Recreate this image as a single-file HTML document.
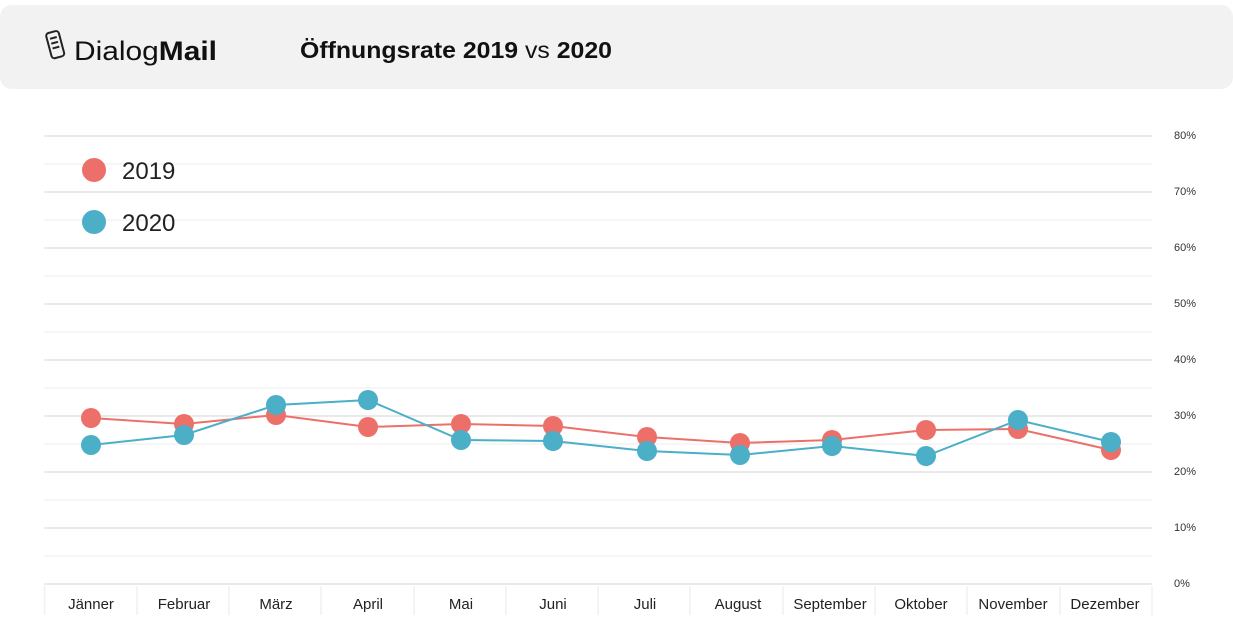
<!DOCTYPE html>
<html><head><meta charset="utf-8"><style>
body{margin:0;width:1233px;height:630px;background:#fff;font-family:"Liberation Sans",sans-serif;overflow:hidden;position:relative}
.hdr{position:absolute;left:0;top:5px;width:1233px;height:84px;background:#f2f2f2;border-radius:12px}
</style></head><body>
<div class="hdr"></div>
<svg width="1233" height="630" style="position:absolute;left:0;top:0" font-family="Liberation Sans, sans-serif">
<g transform="translate(46,32) rotate(-15 8 14)" fill="none" stroke="#222" stroke-width="2"><rect x="3" y="0" width="13" height="26" rx="3"/><line x1="6" y1="6" x2="13" y2="6"/><line x1="6" y1="11" x2="13" y2="11"/><line x1="6" y1="16" x2="13" y2="16"/></g>
<text x="74" y="60" font-size="27" fill="#111" textLength="143" lengthAdjust="spacingAndGlyphs">Dialog<tspan font-weight="bold">Mail</tspan></text>
<text x="300" y="58" font-size="23" font-weight="bold" fill="#111" textLength="312" lengthAdjust="spacingAndGlyphs">Öffnungsrate 2019 <tspan font-weight="normal">vs</tspan> 2020</text>
<g stroke="#f3f3f3" stroke-width="1.5">
<line x1="44" x2="1152" y1="556" y2="556"/><line x1="44" x2="1152" y1="500" y2="500"/><line x1="44" x2="1152" y1="444" y2="444"/><line x1="44" x2="1152" y1="388" y2="388"/><line x1="44" x2="1152" y1="332" y2="332"/><line x1="44" x2="1152" y1="276" y2="276"/><line x1="44" x2="1152" y1="220" y2="220"/><line x1="44" x2="1152" y1="164" y2="164"/>
</g>
<g stroke="#e3e3e3" stroke-width="1.5">
<line x1="44" x2="1152" y1="584" y2="584"/><line x1="44" x2="1152" y1="528" y2="528"/><line x1="44" x2="1152" y1="472" y2="472"/><line x1="44" x2="1152" y1="416" y2="416"/><line x1="44" x2="1152" y1="360" y2="360"/><line x1="44" x2="1152" y1="304" y2="304"/><line x1="44" x2="1152" y1="248" y2="248"/><line x1="44" x2="1152" y1="192" y2="192"/><line x1="44" x2="1152" y1="136" y2="136"/>
</g>
<g stroke="#f0f0f0" stroke-width="1.5">
<line x1="44.5" x2="44.5" y1="586" y2="615"/><line x1="137" x2="137" y1="586" y2="615"/><line x1="229" x2="229" y1="586" y2="615"/><line x1="321" x2="321" y1="586" y2="615"/><line x1="414" x2="414" y1="586" y2="615"/><line x1="506" x2="506" y1="586" y2="615"/><line x1="598" x2="598" y1="586" y2="615"/><line x1="690" x2="690" y1="586" y2="615"/><line x1="783" x2="783" y1="586" y2="615"/><line x1="875" x2="875" y1="586" y2="615"/><line x1="967" x2="967" y1="586" y2="615"/><line x1="1060" x2="1060" y1="586" y2="615"/><line x1="1152" x2="1152" y1="586" y2="615"/>
</g>
<g font-size="11" fill="#333">
<text x="1174" y="587">0%</text><text x="1174" y="531">10%</text><text x="1174" y="475">20%</text><text x="1174" y="419">30%</text><text x="1174" y="363">40%</text><text x="1174" y="307">50%</text><text x="1174" y="251">60%</text><text x="1174" y="195">70%</text><text x="1174" y="139">80%</text>
</g>
<g font-size="15" fill="#222" text-anchor="middle">
<text x="91" y="609">Jänner</text><text x="184" y="609">Februar</text><text x="276" y="609">März</text><text x="368" y="609">April</text><text x="461" y="609">Mai</text><text x="553" y="609">Juni</text><text x="645" y="609">Juli</text><text x="738" y="609">August</text><text x="830" y="609">September</text><text x="921" y="609">Oktober</text><text x="1013" y="609">November</text><text x="1105" y="609">Dezember</text>
</g>
<polyline fill="none" stroke="#ec7069" stroke-width="2" points="91,418 184,424 276,415 368,427 461,424 553,426 647,437 740,443 832,440 926,430 1018,429 1111,450"/>
<g fill="#ec7069"><circle cx="91" cy="418" r="10"/><circle cx="184" cy="424" r="10"/><circle cx="276" cy="415" r="10"/><circle cx="368" cy="427" r="10"/><circle cx="461" cy="424" r="10"/><circle cx="553" cy="426" r="10"/><circle cx="647" cy="437" r="10"/><circle cx="740" cy="443" r="10"/><circle cx="832" cy="440" r="10"/><circle cx="926" cy="430" r="10"/><circle cx="1018" cy="429" r="10"/><circle cx="1111" cy="450" r="10"/></g>
<polyline fill="none" stroke="#4aafc7" stroke-width="2" points="91,445 184,435 276,405 368,400 461,440 553,441 647,451 740,455 832,446 926,456 1018,420 1111,442"/>
<g fill="#4aafc7"><circle cx="91" cy="445" r="10"/><circle cx="184" cy="435" r="10"/><circle cx="276" cy="405" r="10"/><circle cx="368" cy="400" r="10"/><circle cx="461" cy="440" r="10"/><circle cx="553" cy="441" r="10"/><circle cx="647" cy="451" r="10"/><circle cx="740" cy="455" r="10"/><circle cx="832" cy="446" r="10"/><circle cx="926" cy="456" r="10"/><circle cx="1018" cy="420" r="10"/><circle cx="1111" cy="442" r="10"/></g>
<circle cx="94" cy="170" r="12" fill="#ec7069"/><text x="122" y="179" font-size="24" fill="#222">2019</text>
<circle cx="94" cy="222" r="12" fill="#4aafc7"/><text x="122" y="231" font-size="24" fill="#222">2020</text>
</svg>
</body></html>
